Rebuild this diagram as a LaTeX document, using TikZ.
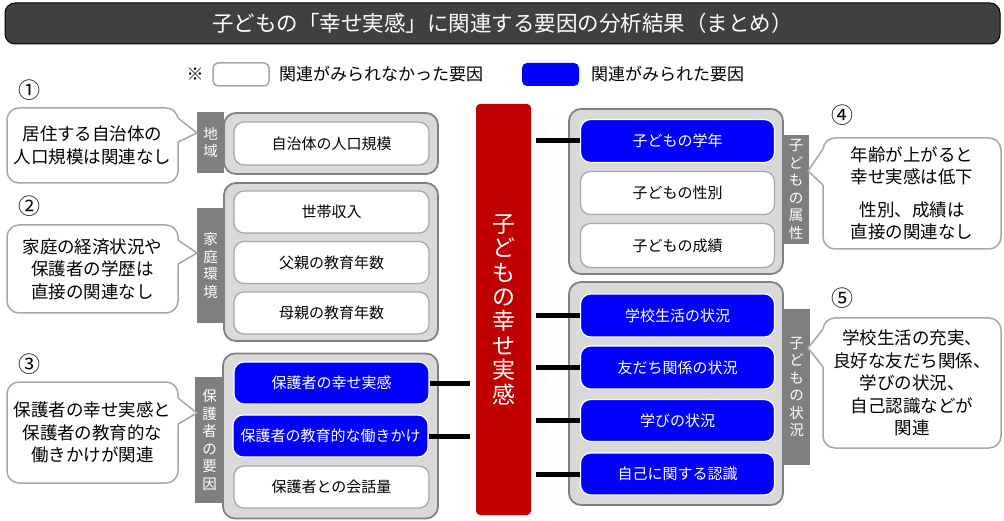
\documentclass[tikz,border=0pt]{standalone}
\usepackage{fontspec}
\setmainfont{Noto Sans CJK JP}
\definecolor{titlebg}{HTML}{404040}
\definecolor{grpfill}{HTML}{D9D9D9}
\definecolor{grpline}{HTML}{808080}
\definecolor{boxline}{HTML}{A6A6A6}
\definecolor{relblue}{HTML}{0000FF}
\definecolor{taggray}{HTML}{7F7F7F}
\definecolor{redc}{HTML}{C00000}
\definecolor{bubline}{HTML}{A6A6A6}
\newcommand{\fsz}[2]{\fontsize{#1}{#2}\selectfont}
\newcommand{\callptr}[6]{%
  \fill[white] ({#1-3*#6},#2) -- ({#1+1*#6},#2) -- (#4,#5) -- ({#1+1*#6},#3) -- ({#1-3*#6},#3) -- cycle;
  \draw[bubline,line width=1.5pt,line join=round] (#1,#2) -- (#4,#5) -- (#1,#3);}
\tikzset{
  grp/.style={draw=grpline, fill=grpfill, line width=1.8pt, rounded corners=12pt},
  wbox/.style={draw=boxline, fill=white, line width=1.2pt, rounded corners=10pt, text=black, font=\fsz{15}{18}, minimum width=195pt, minimum height=42pt},
  bbox/.style={wbox, fill=relblue, draw=white, text=white},
  tag/.style={fill=taggray, text=white, align=center, font=\fsz{14.5}{17.5}, inner sep=0pt},
  bubble/.style={draw=bubline, fill=white, line width=1.5pt, rounded corners=12pt, align=center, font=\fsz{17.5}{22.5}},
  conn/.style={line width=5pt, black},
  cnum/.style={font=\fsz{22}{24}}
}
\begin{document}
\begin{tikzpicture}[x=1pt,y=-1pt]
\useasboundingbox (0,0) rectangle (1004,521);
% title
\node[draw=black, fill=titlebg, line width=1pt, rounded corners=10pt, minimum width=995pt, minimum height=41pt, text=white, font=\fsz{21.5}{24}] (title) at (502.5,23.5) {子どもの「幸せ実感」に関連する要因の分析結果（まとめ）};
% legend
\node[font=\fsz{17}{20}] (kome) at (195,74) {※};
\node[draw=bubline, fill=white, line width=1.5pt, rounded corners=5pt, minimum width=56pt, minimum height=23pt] (lgw) at (241,74.5) {};
\node[anchor=west, font=\fsz{17}{20}, inner sep=0pt] (lgwt) at (279,74) {関連がみられなかった要因};
\node[fill=relblue, rounded corners=5pt, minimum width=57pt, minimum height=23pt] (lgb) at (550.5,74.5) {};
\node[anchor=west, font=\fsz{17}{20}, inner sep=0pt] (lgbt) at (591,74) {関連がみられた要因};
% circled numbers
\node[cnum] (c1n) at (29,90) {①};
\node[cnum] (c2n) at (29,206) {②};
\node[cnum] (c3n) at (29,364) {③};
\node[cnum] (c4n) at (842,115) {④};
\node[cnum] (c5n) at (842,298) {⑤};
% groups
\node[grp, minimum width=214pt, minimum height=61pt] (g1) at (331,143.5) {};
\node[grp, minimum width=214pt, minimum height=158pt] (g2) at (331,262) {};
\node[grp, minimum width=215pt, minimum height=165pt] (g3) at (330.5,436) {};
\node[grp, minimum width=214pt, minimum height=165pt] (g4) at (676,191.5) {};
\node[grp, minimum width=214pt, minimum height=223pt] (g5) at (676,393.5) {};
% inner boxes left
\node[wbox, minimum height=43pt] (n1) at (331.5,143.5) {自治体の人口規模};
\node[wbox] (n2) at (331.5,212) {世帯収入};
\node[wbox] (n3) at (331.5,262.5) {父親の教育年数};
\node[wbox] (n4) at (331.5,313) {母親の教育年数};
\node[bbox] (n5) at (331.5,383) {保護者の幸せ実感};
\node[bbox] (n6) at (330.5,436) {保護者の教育的な働きかけ};
\node[wbox] (n7) at (331.5,487) {保護者との会話量};
% inner boxes right
\node[bbox, minimum width=194pt, minimum height=43pt] (m1) at (677.5,141) {子どもの学年};
\node[wbox, minimum width=194pt, minimum height=43pt] (m2) at (677.5,193) {子どもの性別};
\node[wbox, minimum width=194pt, minimum height=44pt] (m3) at (677.5,245.5) {子どもの成績};
\node[bbox, minimum width=194pt, minimum height=43pt] (m4) at (677.5,315.5) {学校生活の状況};
\node[bbox, minimum width=194pt, minimum height=43pt] (m5) at (677.5,367.5) {友だち関係の状況};
\node[bbox, minimum width=194pt, minimum height=42pt] (m6) at (677.5,420.5) {学びの状況};
\node[bbox, minimum width=194pt, minimum height=42pt] (m7) at (677.5,474) {自己に関する認識};
% tags
\node[tag, minimum width=27pt, minimum height=61pt] (t1) at (210.5,142.5) {地\\域};
\node[tag, minimum width=27pt, minimum height=115pt] (t2) at (210.5,265.5) {家\\庭\\環\\境};
\node[tag, minimum width=29pt, minimum height=126pt] (t3) at (209.5,440) {保\\護\\者\\の\\要\\因};
\node[tag, minimum width=26pt, minimum height=109pt] (t4) at (796,189.5) {子\\ど\\も\\の\\属\\性};
\node[tag, minimum width=27pt, minimum height=155pt] (t5) at (796.5,387) {子\\ど\\も\\の\\状\\況};
% central red box
\node[fill=redc, rounded corners=4pt, minimum width=55pt, minimum height=411pt, text=white, align=center, font=\fsz{23}{24.4}, inner sep=0pt] (red) at (503.5,309.5) {子\\ど\\も\\の\\幸\\せ\\実\\感};
% connectors
\draw[conn] (n5.east) -- ([xshift=-6pt]red.west |- n5.east);
\draw[conn] (n6.east) -- ([xshift=-6pt]red.west |- n6.east);
\foreach \m in {m1,m4,m5,m6,m7}{
  \draw[conn] ([xshift=5pt]red.east |- \m.west) -- (\m.west);
}
% callouts
\node[bubble, minimum width=171pt, minimum height=75pt] (b1) at (92.5,145.5) {居住する自治体の\\人口規模は関連なし};
\callptr{178}{118}{142}{197}{133}{1}
\node[bubble, minimum width=171pt, minimum height=88pt] (b2) at (92.5,269) {家庭の経済状況や\\保護者の学歴は\\直接の関連なし};
\callptr{178}{240}{264}{197}{253}{1}
\node[bubble, minimum width=171pt, minimum height=101pt] (b3) at (92.5,432.5) {保護者の幸せ実感と\\保護者の教育的な\\働きかけが関連};
\callptr{178}{398}{424}{197}{413}{1}
\node[bubble, minimum width=178pt, minimum height=111pt] (b4) at (912,193.5) {年齢が上がると\\幸せ実感は低下\\[10pt]性別、成績は\\直接の関連なし};
\callptr{823}{149}{185}{808}{171}{-1}
\node[bubble, minimum width=178pt, minimum height=130pt] (b5) at (912,383) {学校生活の充実、\\良好な友だち関係、\\学びの状況、\\自己認識などが\\関連};
\callptr{823}{329}{367}{808}{348}{-1}
\end{tikzpicture}
\end{document}
